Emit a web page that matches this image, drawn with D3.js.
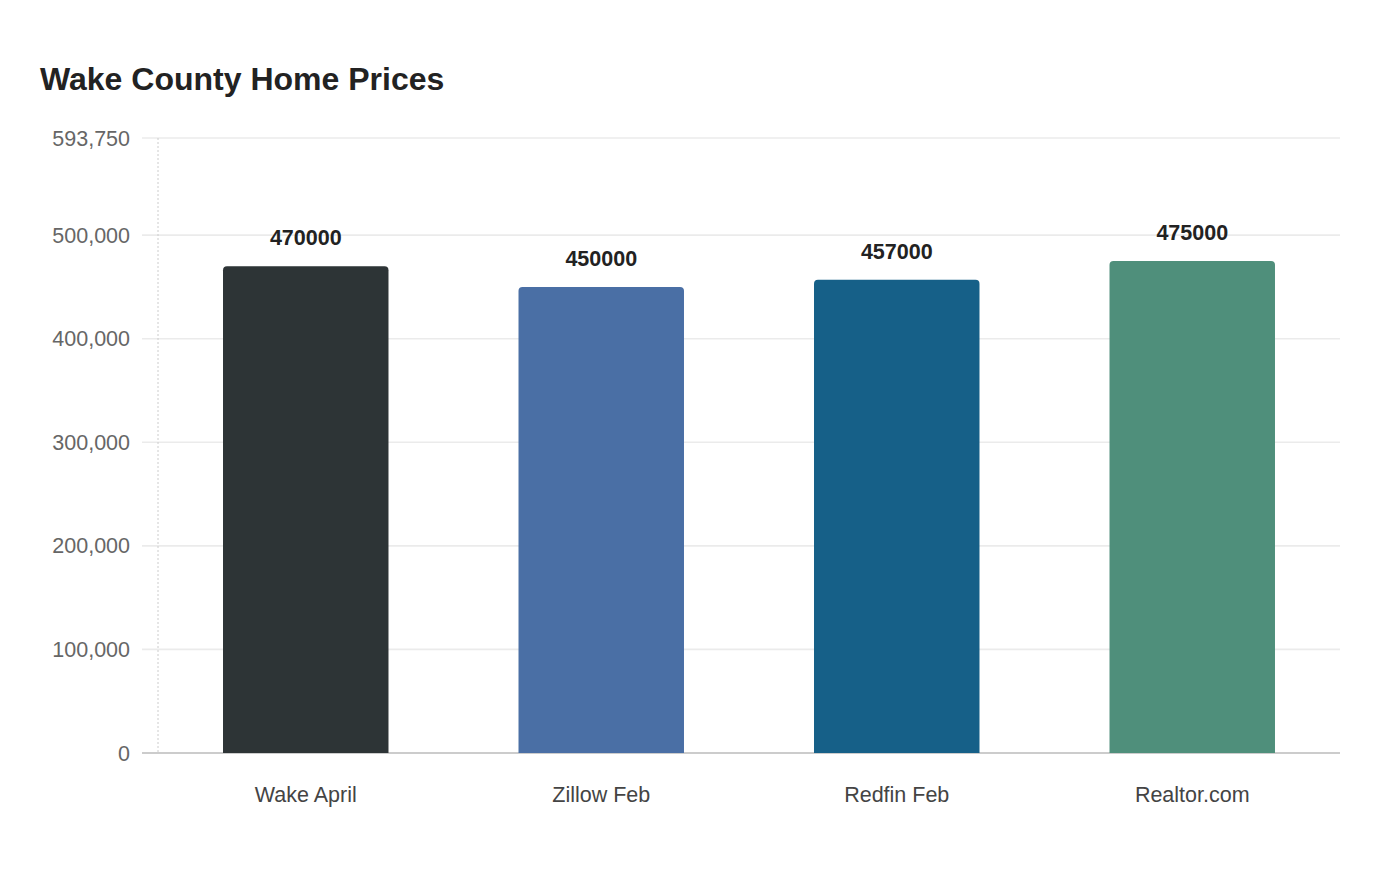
<!DOCTYPE html>
<html><head><meta charset="utf-8">
<script src="https://cdn.jsdelivr.net/npm/d3@7"></script>
<style>body{margin:0;background:#fff;font-family:"Liberation Sans",Arial,sans-serif}</style>
</head><body><svg id="c" width="1400" height="880"></svg>
<script>
const categories = ["Wake April","Zillow Feb","Redfin Feb","Realtor.com"];
const values = [470000,450000,457000,475000];
const colors = ["#2d3436","#4a6fa5","#166088","#4f8f7b"];
const yTicks = [0,100000,200000,300000,400000,500000,593750];
const yMax = 593750;

const svg = d3.select("#c");
const m = {l:158,r:60,t:138,b:127};
const W = 1400, H = 880;
const x = d3.scaleBand().domain(categories).range([m.l, W-m.r]).paddingInner(0.44).paddingOuter(0.22);
const y = d3.scaleLinear().domain([0,yMax]).range([H-m.b, m.t]);

svg.append("text").attr("x",40).attr("y",90).text("Wake County Home Prices")
  .attr("font-size",32).attr("font-weight","bold").attr("fill","#222");

const g = svg.append("g");
g.selectAll("line.grid").data(yTicks).join("line").attr("class","grid")
  .attr("x1",142).attr("x2",W-m.r).attr("y1",d=>y(d)).attr("y2",d=>y(d))
  .attr("stroke",d=>d===0?"#ccc":"#ebebeb").attr("stroke-width",d=>d===0?2:1.6);
g.append("line").attr("x1",m.l).attr("x2",m.l).attr("y1",m.t).attr("y2",H-m.b)
  .attr("stroke","#ccc").attr("stroke-width",1).attr("stroke-dasharray","2,2");

const fmt = d3.format(",");
g.selectAll("text.yt").data(yTicks).join("text").attr("class","yt")
  .attr("x",130).attr("y",d=>y(d)).attr("dy","0.35em").attr("text-anchor","end")
  .attr("font-size",21.5).attr("fill","#666").text(d=>fmt(d));

const r = 4;
g.selectAll("path.bar").data(values).join("path").attr("class","bar")
  .attr("fill",(d,i)=>colors[i])
  .attr("d",(d,i)=>{
    const x0=x(categories[i]), w=x.bandwidth(), y0=y(d), y1=y(0);
    return `M${x0},${y1}V${y0+r}Q${x0},${y0} ${x0+r},${y0}H${x0+w-r}Q${x0+w},${y0} ${x0+w},${y0+r}V${y1}Z`;
  });

g.selectAll("text.val").data(values).join("text").attr("class","val")
  .attr("x",(d,i)=>x(categories[i])+x.bandwidth()/2).attr("y",d=>y(d)-21)
  .attr("text-anchor","middle").attr("font-size",21.5).attr("font-weight","bold").attr("fill","#222")
  .text(d=>d);

g.selectAll("text.xt").data(categories).join("text").attr("class","xt")
  .attr("x",d=>x(d)+x.bandwidth()/2).attr("y",802).attr("text-anchor","middle")
  .attr("font-size",21.5).attr("fill","#444").text(d=>d);
</script></body></html>
